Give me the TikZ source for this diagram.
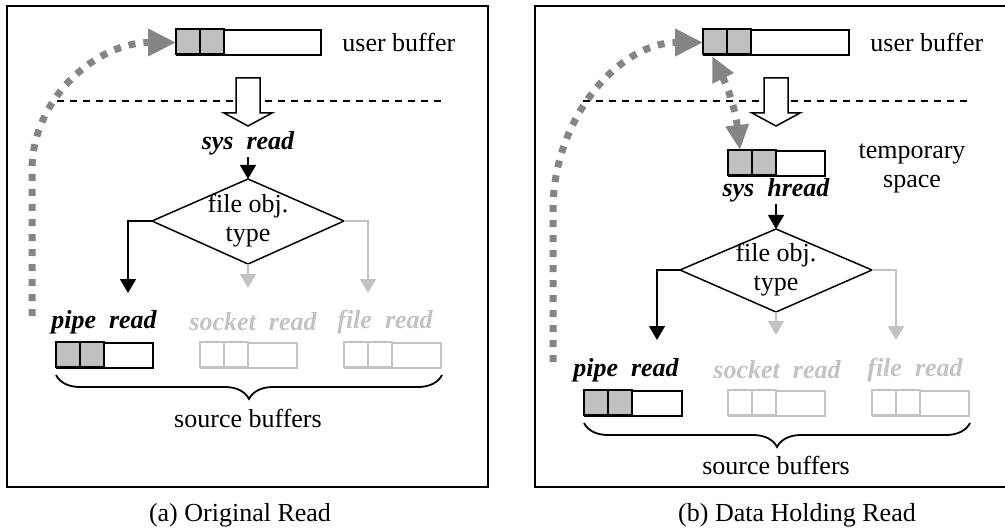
\documentclass[tikz,border=0pt]{standalone}
\usepackage{fontspec}
\setmainfont{Liberation Serif}
\usetikzlibrary{arrows.meta,positioning,decorations.pathreplacing}

\definecolor{dotgray}{HTML}{858585}
\definecolor{cellgray}{HTML}{C0C0C0}
\definecolor{offgray}{HTML}{C3C3C3}

\tikzset{
  txt/.style={font=\fontsize{13}{14.5}\selectfont, inner sep=1pt},
  fn/.style={txt, font=\fontsize{13}{14.5}\selectfont\bfseries\itshape},
  frame/.style={line width=1pt},
  flow/.style={line width=0.75pt, -{Triangle[length=7pt,width=8pt]}},
  offflow/.style={flow, draw=offgray},
  dotarrow/.style={draw=dotgray, line width=3.5pt, dash pattern=on 3.5pt off 4pt, -{Triangle[length=14pt,width=13pt]}},
  sep/.style={line width=0.6pt, dash pattern=on 3.5pt off 3pt},
  brace/.style={decorate, decoration={brace, mirror, amplitude=12pt}, line width=0.9pt}
}

\newcommand{\buffer}[6]{%
  \node[draw=#5, line width=1pt, inner sep=0pt, minimum width=#4, minimum height=12.5pt, anchor=north west] (#1) at (#2,#3) {};
  \draw[draw=#5, fill=#6, line width=1pt] (#1.north west) rectangle ++(24,25) ++(0,-25) rectangle ++(24,25);
}
\newcommand{\blockarrow}[1]{%
  \draw[line width=0.75pt, fill=white] (#1,78) ++(-12,0) -- ++(24,0) -- ++(0,35) -- ++(12,0) -- ++(-24,13) -- ++(-24,-13) -- ++(12,0) -- cycle;
}

\begin{document}
\begin{tikzpicture}[x=0.5pt, y=-0.5pt]
\useasboundingbox (0,0) rectangle (1005,529);

% (a)
\draw[frame] (7,6) rectangle (488,487);
\draw[sep] (57,101) -- (442,101);
\buffer{ubufA}{176}{29}{72pt}{black}{cellgray}
\node[txt, right=9pt of ubufA] (ulblA) {user buffer};
\blockarrow{248}
\node[fn] (sysA) at (248,143) {sys~~read};
\node[txt, align=center] (typeA) at (248,221) {file obj.\\type};
\draw[line width=0.75pt] (248,179) coordinate (typeA-n) -- (344,221) coordinate (typeA-e) -- (248,264) coordinate (typeA-s) -- (152,221) coordinate (typeA-w) -- cycle;
\draw[flow] (sysA) -- (typeA-n);
\coordinate (inPA) at (128,293);
\coordinate (inSA) at (248,288);
\coordinate (inFA) at (368,293);
\draw[flow] (typeA-w) -| (inPA);
\draw[offflow] (typeA-s) -- (inSA);
\draw[offflow] (typeA-e) -| (inFA);
\node[fn] (pipelA) at (104,322) {pipe~~read};
\node[fn, text=offgray] (socklA) at (253,322) {socket~~read};
\node[fn, text=offgray] (filelA) at (385,322) {file~~read};
\buffer{pipeA}{56}{342}{48pt}{black}{cellgray}
\buffer{sockA}{200}{342}{48pt}{offgray}{white}
\buffer{fileA}{344}{342}{48pt}{offgray}{white}
\draw[brace] ([yshift=-3pt]pipeA.south west) -- ([yshift=-3pt]fileA.south east);
\node[txt] (srcA) at (248,418) {source buffers};
\node[txt] (capA) at (240,515) {(a) Original Read};
\coordinate (dotA) at (32,316);
\draw[dotarrow] (dotA) -- (32,170) .. controls +(0,-71) and +(-80,0) .. (ubufA.west);

% (b)
\draw[frame] (535,6) rectangle (1015,487);
\draw[sep] (583,101) -- (970,101);
\buffer{ubufB}{703}{29}{72.5pt}{black}{cellgray}
\node[txt, right=9pt of ubufB] (ulblB) {user buffer};
\blockarrow{776}
\buffer{tmpB}{728}{150}{48pt}{black}{cellgray}
\node[txt, align=center] (tmplB) at (912,168) {temporary\\space};
\node[fn] (sysB) at (776,190) {sys~~hread};
\node[txt, align=center] (typeB) at (776,270) {file obj.\\type};
\draw[line width=0.75pt] (776,229) coordinate (typeB-n) -- (872,270) coordinate (typeB-e) -- (776,312) coordinate (typeB-s) -- (680,270) coordinate (typeB-w) -- cycle;
\draw[flow] (sysB) -- (typeB-n);
\coordinate (inPB) at (657,340);
\coordinate (inSB) at (776,335);
\coordinate (inFB) at (896,340);
\draw[flow] (typeB-w) -| (inPB);
\draw[offflow] (typeB-s) -- (inSB);
\draw[offflow] (typeB-e) -| (inFB);
\node[fn] (pipelB) at (626,370) {pipe~~read};
\node[fn, text=offgray] (socklB) at (777,370) {socket~~read};
\node[fn, text=offgray] (filelB) at (915,370) {file~~read};
\buffer{pipeB}{584}{390}{48.5pt}{black}{cellgray}
\buffer{sockB}{728}{390}{48pt}{offgray}{white}
\buffer{fileB}{872}{390}{48pt}{offgray}{white}
\draw[brace] ([yshift=-3pt]pipeB.south west) -- ([yshift=-3pt]fileB.south east);
\node[txt] (srcB) at (776,465) {source buffers};
\node[txt] (capB) at (797,515) {(b) Data Holding Read};
\coordinate (dotB) at (553,362);
\draw[dotarrow] (dotB) -- (553,210) .. controls +(0,-93) and +(-83,0) .. (ubufB.west);
\draw[dotarrow, {Triangle[length=12.5pt,width=11pt]}-{Triangle[length=12.5pt,width=11pt]}] ([xshift=4.5pt]ubufB.south west) to[bend left=10] ([xshift=6pt]tmpB.north west);
\end{tikzpicture}
\end{document}
